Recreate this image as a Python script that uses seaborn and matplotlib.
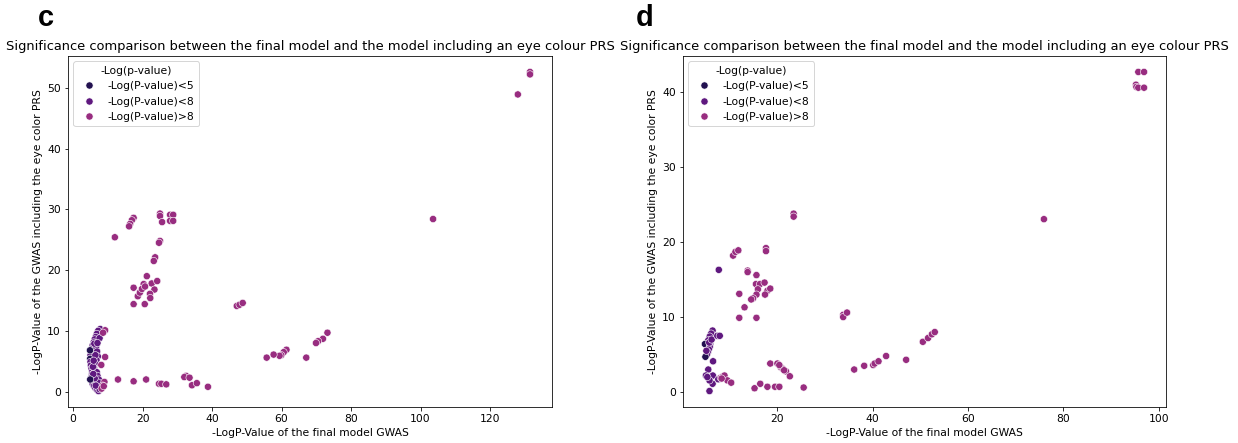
import numpy as np
import pandas as pd
import matplotlib
matplotlib.use("Agg")
import matplotlib.pyplot as plt
import seaborn as sns

# ---------------- data: panel c ----------------
c_x = [7.8, 7.2, 6.8, 6.5, 6.2, 5.9, 5.6, 5.3, 5.1, 5.0, 4.9, 5.0, 5.1, 5.3, 5.5, 5.4,
       5.2, 5.3, 5.6, 6.0, 6.4, 6.9, 7.3, 7.6, 6.6, 6.9, 7.1, 6.7, 6.3, 6.0, 6.8, 7.0,
       7.4, 7.2, 6.5, 6.2, 5.8, 5.7, 6.1, 7.6, 7.0, 6.4, 5.9, 4.85, 4.9,
       9.2, 8.6, 9.2, 8.1, 9.0, 8.5, 8.2, 8.8,
       12.9, 17.4, 21.0, 24.7, 25.4, 26.8, 32.5, 32.0, 33.5, 34.2, 35.6, 38.8,
       12.0, 17.4, 16.9, 16.4, 16.1, 25.0, 25.0, 25.6, 27.9, 28.8, 27.9, 28.8,
       25.0, 24.7, 23.6, 23.2, 21.2, 20.3, 17.4, 22.6, 24.2, 23.4, 22.1, 22.2,
       18.6, 19.2, 19.8, 20.7, 17.4, 20.6,
       47.1, 47.9, 48.8, 73.2, 71.9, 70.5, 69.9, 61.4, 60.6, 59.9, 59.4, 57.7,
       55.7, 67.1, 103.6, 128.0, 131.5, 131.5]
c_y = [10.3, 10.0, 9.5, 9.0, 8.6, 8.1, 7.6, 7.0, 6.5, 6.0, 5.4, 4.9, 4.3, 3.8, 3.3, 2.8,
       2.3, 1.8, 1.3, 0.9, 0.6, 0.3, 0.1, 0.4, 7.3, 6.6, 5.8, 5.2, 4.6, 3.9, 3.2, 2.6,
       2.0, 1.5, 1.0, 2.2, 2.9, 4.1, 7.9, 8.8, 8.0, 6.0, 5.1, 6.8, 2.0,
       10.1, 9.7, 5.7, 4.4, 1.6, 1.0, 0.5, 0.9,
       2.0, 1.7, 2.0, 1.3, 1.3, 1.2, 2.6, 2.4, 2.3, 1.05, 1.4, 0.8,
       25.4, 28.6, 28.2, 27.6, 27.2, 29.3, 28.9, 27.9, 29.1, 29.1, 28.1, 28.1,
       24.8, 24.5, 22.1, 21.5, 19.0, 17.7, 17.1, 17.8, 18.2, 16.8, 16.1, 15.4,
       15.7, 16.3, 16.9, 17.3, 14.4, 14.4,
       14.1, 14.3, 14.6, 9.7, 8.7, 8.3, 8.0, 6.9, 6.5, 6.0, 5.9, 6.1,
       5.6, 5.6, 28.4, 48.9, 52.6, 52.2]

# ---------------- data: panel d ----------------
d_x = [6.4, 6.1, 5.8, 5.5, 4.8, 5.9, 5.8, 5.6, 5.4, 5.2, 4.9, 5.1, 5.7, 6.2, 7.4, 7.9,
       5.75, 6.4, 6.45, 5.5, 5.0, 5.75, 7.6, 6.5, 5.3, 7.7,
       8.1, 8.6, 8.9, 9.5, 10.3, 8.3,
       15.2, 16.4, 17.9, 19.5, 20.4, 25.5,
       18.5, 20.0, 20.7, 21.1, 21.8, 22.6, 20.4, 21.4,
       36.1, 38.2, 40.1, 40.4, 41.2, 42.8, 47.0,
       50.5, 51.6, 52.4, 53.0, 33.8, 33.8, 34.6,
       12.0, 13.1, 12.0, 15.6,
       15.5, 16.35, 17.3, 15.9, 17.9, 18.5, 17.4, 15.6, 14.9, 14.5,
       13.75, 13.75, 15.6, 10.7, 11.2, 11.8, 17.6, 17.6,
       23.4, 23.4, 75.9,
       95.2, 95.3, 95.7, 96.9, 95.7, 96.9]
d_y = [8.2, 7.8, 7.4, 6.9, 6.4, 6.4, 6.0, 5.7, 5.3, 5.0, 4.7, 5.5, 6.6, 7.0, 7.5, 7.5,
       0.13, 1.1, 2.2, 3.0, 2.2, 1.55, 1.7, 4.1, 2.0, 16.3,
       1.9, 2.1, 2.2, 1.55, 1.25, 1.8,
       0.5, 1.1, 0.7, 0.7, 0.7, 0.6,
       3.8, 3.8, 3.3, 3.1, 2.75, 2.1, 3.6, 2.9,
       3.0, 3.5, 3.6, 3.8, 4.1, 4.8, 4.3,
       6.7, 7.2, 7.7, 8.0, 10.3, 10.0, 10.6,
       13.1, 11.3, 9.9, 9.9,
       14.4, 14.4, 14.6, 13.7, 13.5, 13.8, 13.0, 13.0, 12.5, 12.35,
       16.2, 16.0, 15.6, 18.2, 18.7, 18.9, 19.2, 18.8,
       23.8, 23.4, 23.06,
       41.0, 40.7, 40.6, 40.6, 42.7, 42.7]

categories = ["-Log(P-value)<5", "-Log(P-value)<8", "-Log(P-value)>8"]
thresholds = [5, 8]
colors = ["#221150", "#5f187f", "#982d80"]

x_label = "-LogP-Value of the final model GWAS"
y_label = "-LogP-Value of the GWAS including the eye color PRS"
title = "Significance comparison between the final model and the model including an eye colour PRS"
hue_name = "-Log(p-value)"


def classify(v):
    if v < thresholds[0]:
        return categories[0]
    if v < thresholds[1]:
        return categories[1]
    return categories[2]


def make_df(xs, ys):
    return pd.DataFrame({"x": xs, "y": ys, hue_name: [classify(v) for v in xs]})


fig = plt.figure(figsize=(1238 / 72, 443 / 72), dpi=72)
ax1 = fig.add_axes([68 / 1238, 36 / 443, 484 / 1238, 351 / 443])
ax2 = fig.add_axes([683 / 1238, 36 / 443, 483 / 1238, 351 / 443])

FS = 10.8
palette = dict(zip(categories, colors))
for ax, xs, ys, letter, lx in [(ax1, c_x, c_y, "c", 38 / 1238), (ax2, d_x, d_y, "d", 636 / 1238)]:
    df = make_df(xs, ys)
    sns.scatterplot(data=df, x="x", y="y", hue=hue_name, hue_order=categories,
                    palette=palette, ax=ax, s=52)
    ax.set_xlabel(x_label, fontsize=FS)
    ax.set_ylabel(y_label, fontsize=FS)
    ax.set_title(title, fontsize=13)
    ax.tick_params(labelsize=FS)
    leg = ax.legend(title=hue_name, loc="upper left", fontsize=FS, title_fontsize=FS,
                    markerscale=1.0)
    fig.text(lx, 1 - 4 / 443, letter, fontsize=29, fontweight="bold",
             family="Liberation Sans", va="top", ha="left")

ax1.set_xticks([0, 20, 40, 60, 80, 100, 120])
ax1.set_yticks([0, 10, 20, 30, 40, 50])
ax2.set_xticks([20, 40, 60, 80, 100])
ax2.set_yticks([0, 10, 20, 30, 40])

fig.savefig("out.png", dpi=72)
